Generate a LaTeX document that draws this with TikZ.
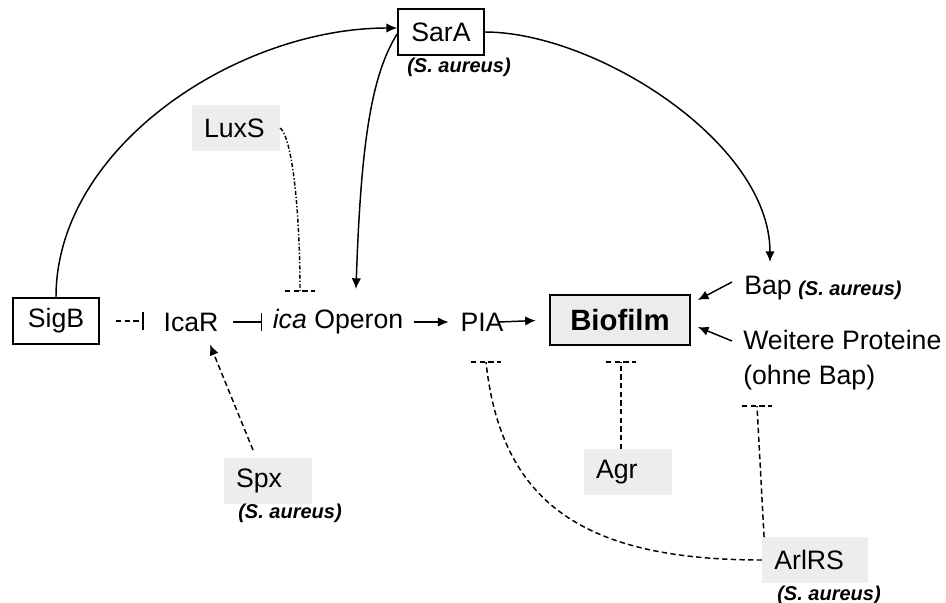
\documentclass[tikz,border=0pt]{standalone}
\usepackage{fontspec}
\setmainfont{Liberation Sans}
\usetikzlibrary{arrows.meta,calc,positioning}

\tikzset{
  txt/.style={inner sep=0.75pt, font=\fontsize{20}{26}\selectfont},
  mainbox/.style={draw, line width=1.3pt, minimum width=64.5pt, minimum height=34.5pt, font=\fontsize{20}{24}\selectfont},
  graybox/.style={fill=gray!14, text width=48pt, inner xsep=9pt, minimum height=34pt, align=left, font=\fontsize{20}{24}\selectfont},
  species/.style={inner sep=0.75pt, font=\fontsize{15}{17}\selectfont\bfseries\itshape},
  act/.style={line width=1.1pt, -{Latex[length=8pt,width=7pt]}},
  inh/.style={line width=1.1pt, -{Bar[width=13pt,line width=1.1pt]}},
  weak/.style={line width=1.1pt, dash pattern=on 4pt off 2.5pt},
}

\begin{document}
\begin{tikzpicture}[x=0.75pt,y=0.75pt,yscale=-1,xscale=1]
    \useasboundingbox (0,0) rectangle (946,603);

    %Shape: Rectangle
    \node[mainbox] (sigb) at (56,321) {SigB};
    \node[mainbox] (sara) at (441,32) {SarA};
    \node[species] (saraorg) at (459,67) {(S. aureus)};
    %Shape: Rectangle
    \node[mainbox, fill=gray!15, minimum width=105pt, minimum height=37.5pt, font=\fontsize{22}{26}\selectfont\bfseries] (biofilm) at (620,320) {Biofilm};

    % Text Node
    \node[txt] (icar) at (191,322) {IcaR};
    % Text Node
    \node[txt] (ica) at (338,322) {\textit{ica} Operon};
    % Text Node
    \node[txt] (pia) at (482,322) {PIA};
    % Text Node
    \node[txt, anchor=west] (bap) at (743,288) {Bap};
    \node[species, anchor=west] (baporg) at ($(bap.east)+(4,2)$) {(S. aureus)};
    % Text Node
    \node[txt, anchor=west, align=left] (weitere) at (742,360) {Weitere Proteine\\(ohne Bap)};

    % gray boxes
    \node[graybox] (luxs) at (236,128) {LuxS};
    \node[graybox] (spx) at (268,481) {Spx};
    \node[species] (spxorg) at (290,513) {(S. aureus)};
    \node[graybox] (agr) at (628,472) {Agr};
    \node[graybox, text width=61pt] (arlrs) at (815,560) {ArlRS};
    \node[species] (arlrsorg) at (829,595) {(S. aureus)};

    % free ends
    \coordinate (luxsbar) at (300,291);
    \coordinate (piabar) at (486,362);
    \coordinate (agrbar) at (621,362);
    \coordinate (arlbar) at (757,406);
    \coordinate (baptip) at (770,262);
    \coordinate (icatip) at (356,289);

    %Straight Lines
    \draw[inh, weak, shorten <=12pt, shorten >=14pt] (sigb.east) -- (sigb.east -| icar.west);
    \draw[inh, shorten <=10pt, shorten >=7pt] (icar.east) -- (ica.west);
    \draw[act, shorten <=7.5pt, shorten >=8pt] (ica.east) -- (pia.west);
    \draw[act, shorten >=10pt] ($(pia.east)+(-6,0)$) -- (biofilm.west);
    \draw[act] ($(bap.west)+(-11,-6)$) -- ($(biofilm.east)+(7,-20)$);
    \draw[act] ($(weitere.west)+(-10,-19)$) -- ($(biofilm.east)+(7,7)$);

    %Curve Lines
    \draw[act] (sigb.north) .. controls +(0,-150) and +(-160,0) .. ($(sara.west)+(0,-4)$);
    \draw[act] ($(sara.west)+(0,2)$) .. controls +(-25,40) and +(5,-150) .. (icatip);
    \draw[act] (sara.east) .. controls +(110,0) and +(0,-120) .. (baptip);

    % inhibitions from below and above
    \draw[weak, dash pattern=on 3pt off 1.5pt on 1pt off 1.5pt] (luxs.east) .. controls +(12,10) and +(0,-80) .. (luxsbar);
    \draw[act, weak] ($(spx.north)+(-15,-8)$) -- ($(icar.south)+(19,12)$);
    \draw[weak] (arlrs.west) .. controls +(-180,0) and +(15,140) .. (piabar);
    \draw[weak] ($(agr.north)+(-7,0)$) -- (agrbar);
    \draw[weak] ($(arlrs.north west)+(2,0)$) -- (arlbar);
    \foreach \c in {luxsbar,piabar,agrbar,arlbar}
      \draw[weak] ($(\c)+(-15,0)$) -- ($(\c)+(15,0)$);
\end{tikzpicture}
\end{document}
